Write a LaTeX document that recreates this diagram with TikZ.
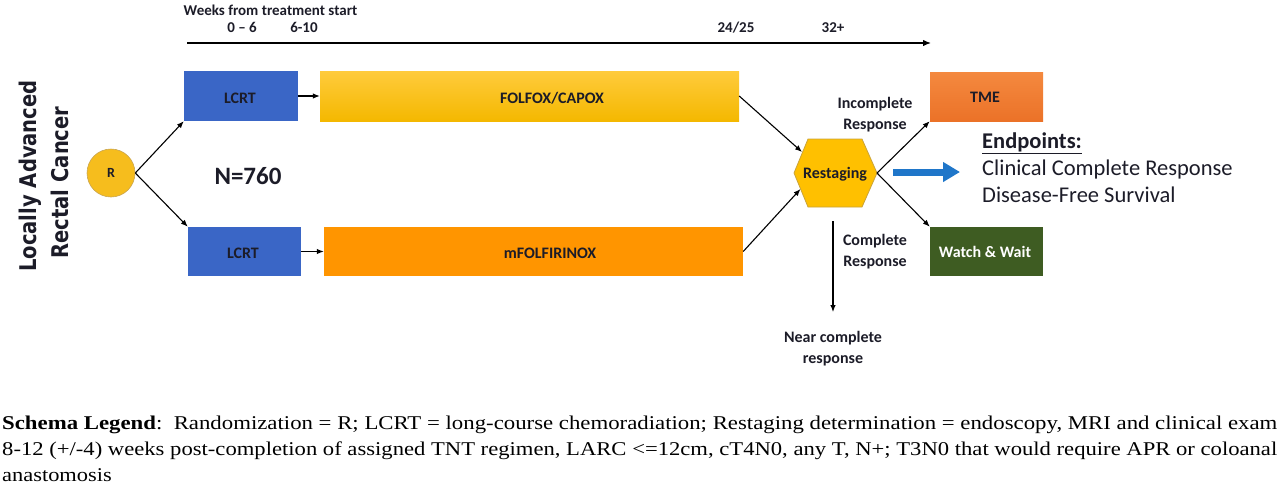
\documentclass[tikz,border=0pt]{standalone}
\usepackage{fontspec}
\usepackage{graphicx}
\setmainfont{Carlito}
\newfontfamily\vtfont{DejaVu Sans}
\newfontfamily\legfont{Liberation Serif}
\usetikzlibrary{arrows.meta,shadings}
\definecolor{lcrtblue}{HTML}{3A66C6}
\definecolor{foltop}{HTML}{FFCB3C}
\definecolor{folbot}{HTML}{F4B800}
\definecolor{mfolf}{HTML}{FF9500}
\definecolor{tmetop}{HTML}{F4893F}
\definecolor{tmebot}{HTML}{EB7228}
\definecolor{wwgreen}{HTML}{3E5C22}
\definecolor{hexfill}{HTML}{FFC000}
\definecolor{hexedge}{HTML}{C9A33A}
\definecolor{rfill}{HTML}{F6BD1D}
\definecolor{redge}{HTML}{C9A552}
\definecolor{bluearr}{HTML}{1F76C9}
\definecolor{txtdark}{HTML}{1C1C28}
\newcommand\legLineA{\textbf{Schema Legend}:\ \ Randomization = R; LCRT = long-course chemoradiation; Restaging determination = endoscopy, MRI and clinical exam}
\newcommand\legLineB{8-12 (+/-4) weeks post-completion of assigned TNT regimen, LARC <=12cm, cT4N0, any T, N+; T3N0 that would require APR or coloanal}
\newcommand\legLineC{anastomosis}
\newcommand\legsize{\legfont\fontsize{19.5}{26}\selectfont}
\tikzset{
  toplbl/.style={font=\fontsize{15}{18}\selectfont\bfseries, inner sep=0, anchor=base, text=txtdark},
  stagebox/.style={draw=none, inner sep=0, minimum width=114, minimum height=50},
  boxtxt/.style={font=\fontsize{16}{19}\selectfont\bfseries, inner sep=0, anchor=base, text=txtdark},
  arr/.style={-{Latex[length=7pt,width=5.5pt]}, line width=1.1pt, draw=black},
  resplbl/.style={font=\fontsize{16}{21}\selectfont\bfseries, align=center, inner sep=0, text=txtdark},
  vtxt/.style={rotate=90, anchor=base, inner sep=0, font=\vtfont\bfseries\fontsize{23}{28}\selectfont, text=txtdark},
  eptxt/.style={font=\fontsize{22.5}{27}\selectfont, anchor=base west, inner sep=0, text=txtdark},
  legline/.style={anchor=base west, inner sep=0},
}
\begin{document}
\begin{tikzpicture}[x=1pt,y=-1pt]
\useasboundingbox (0,0) rectangle (1280,483);

% timeline
\node[toplbl] (weeks) at (270.5,15) {Weeks from treatment start};
\node[toplbl] (w06) at (242,32) {0 -- 6};
\node[toplbl] (w610) at (304,32) {6-10};
\node[toplbl] (w2425) at (736,32) {24/25};
\node[toplbl] (w32) at (833,32) {32+};
\coordinate (tl0) at (187,43);
\coordinate (tl1) at (931,43);
\draw[line width=1.3pt, -{Latex[length=8pt,width=6.5pt]}] (tl0) -- (tl1);

% side title
\node[vtxt] (lav) at (36,176) {\scalebox{0.85}[1]{Locally Advanced}};
\node[vtxt] (rc) at (68,182.5) {\scalebox{0.85}[1]{Rectal Cancer}};

% randomization
\node[circle, fill=rfill, draw=redge, line width=0.6pt, minimum size=48, inner sep=0,
      font=\fontsize{14}{16}\selectfont\bfseries, text=txtdark] (r) at (111,173) {R\hspace{11pt}};
\node[font=\fontsize{25}{28}\selectfont\bfseries, inner sep=0, anchor=base, text=txtdark] (n) at (248,184) {N=760};

% arm boxes
\node[stagebox, fill=lcrtblue] (lcrt1) at (241,96) {};
\node[boxtxt] (lcrt1t) at (240,103) {LCRT};
\node[stagebox, minimum width=419, top color=foltop, bottom color=folbot] (folfox) at (529.5,96) {};
\node[boxtxt] (folfoxt) at (552,103) {FOLFOX/CAPOX};
\node[stagebox, minimum width=113, minimum height=49, fill=lcrtblue] (lcrt2) at (244.5,251.5) {};
\node[boxtxt] (lcrt2t) at (243,258) {LCRT};
\node[stagebox, minimum width=419, minimum height=49, fill=mfolf] (mfolf) at (533.5,251.5) {};
\node[boxtxt] (mfolft) at (550,258) {mFOLFIRINOX};

\draw[arr] (r.east) -- (lcrt1.south west);
\draw[arr] (r.east) -- (lcrt2.north west);
\draw[arr] (lcrt1.east) -- (folfox.west);
\draw[arr] (lcrt2.east) -- (mfolf.west);

% restaging hexagon
\coordinate (hL) at (794,173);
\coordinate (hTL) at (808,139);
\coordinate (hTR) at (862,139);
\coordinate (hR) at (877,173);
\coordinate (hBR) at (862,207);
\coordinate (hBL) at (808,207);
\draw[fill=hexfill, draw=hexedge, line width=0.8pt] (hL) -- (hTL) -- (hTR) -- (hR) -- (hBR) -- (hBL) -- cycle;
\node[boxtxt] (rest) at (835,178) {Restaging};
\coordinate (hin1) at (802,152);
\coordinate (hin2) at (800.5,189);
\draw[arr] (folfox.east) -- (hin1);
\draw[arr] (mfolf.east) -- (hin2);

% outcomes
\node[stagebox, minimum width=113, minimum height=49, top color=tmetop, bottom color=tmebot] (tme) at (986.5,96.5) {};
\node[boxtxt] (tmet) at (985,102) {TME};
\node[stagebox, minimum width=113, minimum height=49, fill=wwgreen] (ww) at (986.5,251.5) {};
\node[boxtxt, text=white] (wwt) at (985,257) {Watch \& Wait};
\draw[arr] (hR) -- (tme.south west);
\draw[arr] (hR) -- (ww.north west);
\node[resplbl] (incl) at (875,115) {Incomplete\\Response};
\node[resplbl] (cpl) at (875,252) {Complete\\Response};

\coordinate (d0) at (833,221);
\coordinate (d1) at (833,312);
\draw[arr] (d0) -- (d1);
\node[resplbl] (ncr) at (833,349) {Near complete\\response};

% endpoints
\coordinate (ba0) at (893,172);
\coordinate (ba1) at (960,172);
\draw[line width=7pt, draw=bluearr, -{Triangle[length=17pt,width=19pt]}] (ba0) -- (ba1);
\node[eptxt, font=\fontsize{22.5}{27}\selectfont\bfseries] (ep0) at (982,148) {\underline{Endpoints:}};
\node[eptxt] (ep1) at (982,175) {Clinical Complete Response};
\node[eptxt] (ep2) at (982,202) {Disease-Free Survival};

% legend
\node[legline] (leg1) at (2,429) {\resizebox{1275pt}{\height}{\legsize\legLineA}};
\node[legline] (leg2) at (2,455) {\resizebox{1275pt}{\height}{\legsize\legLineB}};
\node[legline] (leg3) at (2,481) {\scalebox{1.15}[1]{\legsize\legLineC}};
\end{tikzpicture}
\end{document}
